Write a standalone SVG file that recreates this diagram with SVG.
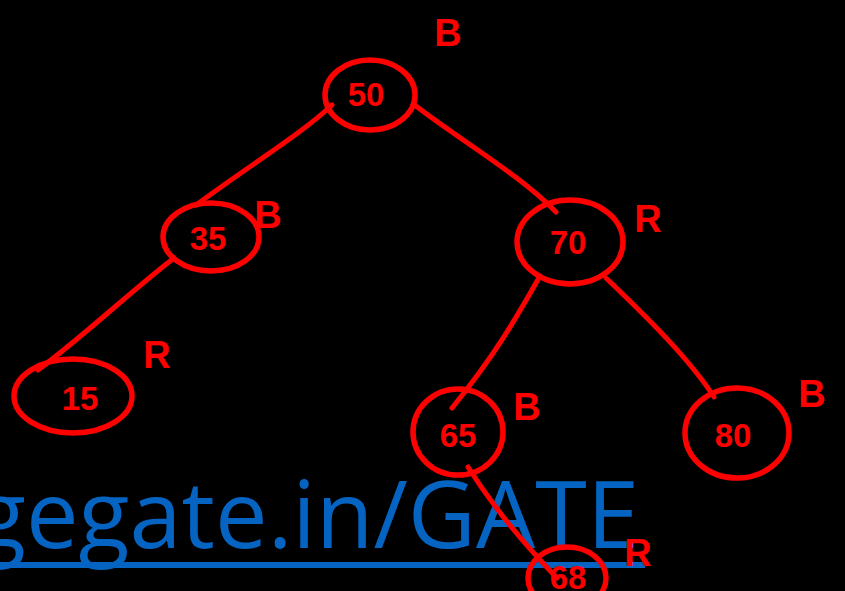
<svg xmlns="http://www.w3.org/2000/svg" width="845" height="591" viewBox="0 0 845 591">
<style>
.n{fill:none;stroke:#ff0000;stroke-width:5.5;stroke-linecap:round}
.e{fill:none;stroke:#ff0000;stroke-width:5;stroke-linecap:round;stroke-linejoin:round}
.v{font-family:"Liberation Sans",Arial,sans-serif;font-size:33px;font-weight:bold;fill:#ff0000;text-anchor:middle}
.c{font-family:"Liberation Sans",Arial,sans-serif;font-size:38px;font-weight:bold;fill:#ff0000;text-anchor:middle}
</style>
<rect width="845" height="591" fill="#000"/>
<g id="watermark">
<text x="-25" y="548" font-family="'Open Sans','Noto Sans',sans-serif" font-size="94" fill="#0563c1" textLength="664" lengthAdjust="spacingAndGlyphs">gegate.in/GATE</text>
<rect x="0" y="562" width="645" height="6" fill="#0563c1"/>
</g>
<g id="connectors">
<path class="e" d="M332,105 C300,135 250,165 196,205"/>
<path class="e" d="M416,106 C460,140 520,175 556,212"/>
<path class="e" d="M174,258 C130,292 85,335 38,370"/>
<path class="e" d="M540,276 C515,320 495,355 452,408"/>
<path class="e" d="M606,278 C650,320 690,360 714,397"/>
<path class="e" d="M468,467 C495,510 525,545 557,578"/>
</g>
<g id="n50">
<ellipse class="n" cx="370" cy="95" rx="45" ry="35"/>
<text class="v" x="366" y="106">50</text>
<text class="c" x="448" y="46">B</text>
</g>
<g id="n35">
<ellipse class="n" cx="211" cy="237" rx="48" ry="34"/>
<text class="v" x="208" y="250">35</text>
<text class="c" x="268" y="228">B</text>
</g>
<g id="n70">
<ellipse class="n" cx="570" cy="242" rx="53" ry="42"/>
<text class="v" x="568" y="254">70</text>
<text class="c" x="648" y="232">R</text>
</g>
<g id="n15">
<ellipse class="n" cx="73" cy="396" rx="59" ry="37"/>
<text class="v" x="80" y="410">15</text>
<text class="c" x="157" y="368">R</text>
</g>
<g id="n65">
<ellipse class="n" cx="458" cy="432" rx="45" ry="43"/>
<text class="v" x="458" y="447">65</text>
<text class="c" x="527" y="420">B</text>
</g>
<g id="n80">
<ellipse class="n" cx="737" cy="433" rx="52" ry="45"/>
<text class="v" x="733" y="447">80</text>
<text class="c" x="812" y="407">B</text>
</g>
<g id="n68">
<ellipse class="n" cx="567" cy="578" rx="39" ry="31"/>
<text class="v" x="568" y="589">68</text>
<text class="c" x="638" y="566">R</text>
</g>
</svg>
